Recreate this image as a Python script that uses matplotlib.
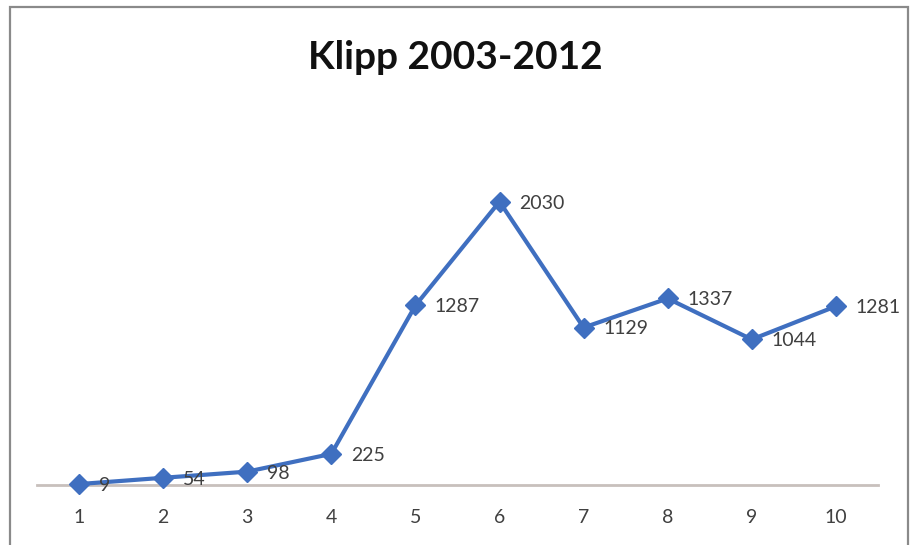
import matplotlib
matplotlib.use("Agg")
import matplotlib.pyplot as plt
from matplotlib.patches import Rectangle

plt.rcParams['font.family'] = ['Lato', 'DejaVu Sans']

# data
years = [1, 2, 3, 4, 5, 6, 7, 8, 9, 10]
klipp = [9, 54, 98, 225, 1287, 2030, 1129, 1337, 1044, 1281]
title = "Klipp 2003-2012"

blue = "#3f6fc0"
grey_txt = "#404040"

fig = plt.figure(figsize=(9.12, 5.45), dpi=100)
fig.patch.set_facecolor("white")

# outer chart frame
fig.add_artist(Rectangle((0.011, -0.01), 0.985, 0.997, transform=fig.transFigure,
                         fill=False, edgecolor="#8a8a8a", linewidth=1.6))

ax = fig.add_axes([0.0406, 0.1095, 0.922, 0.641])
ax.plot(years, klipp, color=blue, linewidth=3, marker="D", markersize=10,
        markeredgecolor=blue, markerfacecolor=blue, clip_on=False, zorder=3)

for x, y in zip(years, klipp):
    ax.annotate(str(y), (x, y), xytext=(14, -1), textcoords="offset points",
                ha="left", va="center", fontsize=14, color=grey_txt)

ax.set_xlim(0.5, 10.5)
ax.set_ylim(0, 2500)
ax.set_xticks(years)
ax.set_xticklabels([str(v) for v in years])
ax.set_yticks([])
for s in ["top", "right", "left"]:
    ax.spines[s].set_visible(False)
ax.spines["bottom"].set_color("#c8c0bc")
ax.spines["bottom"].set_linewidth(2)
ax.tick_params(axis="x", length=0, pad=17, labelsize=14, labelcolor=grey_txt)
ax.patch.set_alpha(0)

fig.text(0.499, 0.895, title, ha="center", va="center", fontsize=28,
         fontweight="bold", color="#111111")

fig.savefig("out.png", dpi=100)
